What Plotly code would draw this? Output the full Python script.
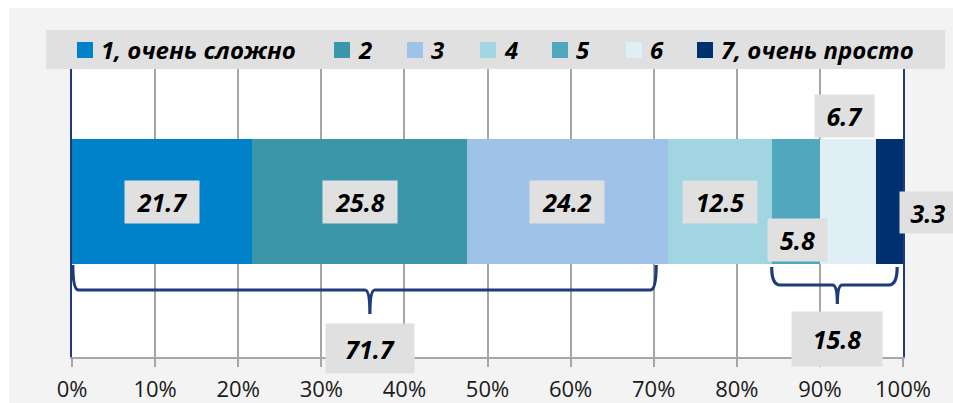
import plotly.graph_objects as go

# Survey answers on a 1..7 difficulty scale (share of respondents, %)
categories = ["1, очень сложно", "2", "3", "4", "5", "6", "7, очень просто"]
values = [21.7, 25.8, 24.2, 12.5, 5.8, 6.7, 3.3]
colors = ["#0082ca", "#3c96aa", "#9fc2e8", "#a2d5e2", "#4fa8be", "#e0eef6", "#00306f"]
tick_values = [0, 10, 20, 30, 40, 50, 60, 70, 80, 90, 100]
tick_labels = ["0%", "10%", "20%", "30%", "40%", "50%", "60%", "70%", "80%", "90%", "100%"]
# answer groups summarised under braces: (first index, last index)
groups = [(0, 2), (4, 6)]

W, H = 953, 403
L, R, T, B = 72, 50, 69, 46
PW, PH = W - L - R, H - T - B

NAVY = "#1f3b7a"
GRID = "#a6a6a6"
BOX = "#e0e0e0"
FONT = "Open Sans"


def xp(px):
    return (px - L) / PW


def yp(py):
    return (H - B - py) / PH


fig = go.Figure()
for name, v, c in zip(categories, values, colors):
    fig.add_trace(go.Bar(
        x=[v], y=[0], orientation="h", width=1, name=name,
        marker=dict(color=c, line=dict(width=0)),
        hoverinfo="skip", showlegend=False,
    ))

starts = [sum(values[:i]) for i in range(len(values))]
mids = [s + v / 2 for s, v in zip(starts, values)]

shapes = []
annotations = []

label_font = dict(family=FONT, size=25, color="#000000", weight="bold", style="italic")


def value_box(text, x, y, w, h, xanchor="center", xshift=0):
    annotations.append(dict(
        x=x, y=y, xref="x", yref="y", text=text, showarrow=False,
        xanchor=xanchor, yanchor="middle", xshift=xshift,
        width=w, height=h, align="center", valign="middle",
        bgcolor=BOX, borderpad=0, font=label_font,
    ))


# per-segment value labels
seg_pos = [
    (0.0, 74, "center", 0),
    (0.0, 74, "center", 0),
    (0.0, 74, "center", 0),
    (0.0, 74, "center", 0),
    (-0.31, 59, "center", 2),
    (0.685, 59, "center", -3),
]
for i, (yy, w, xa, xs) in enumerate(seg_pos):
    value_box(f"{values[i]:.1f}", mids[i], yy, w, 42, xa, xs)
# last segment label sits outside the bar end
value_box(f"{values[-1]:.1f}", starts[-1] + values[-1], -0.085, 56, 41, "left", -4)

# braces under grouped segments with their totals
brace_specs = [
    dict(top=-0.508, mid=-0.708, tip=-0.9, in0=0.1, in1=1.4, r=0.7, lab_y=-1.172, lab_w=90, lab_h=51),
    dict(top=-0.524, mid=-0.668, tip=-0.82, in0=0.0, in1=0.7, r=1.0, lab_y=-1.10, lab_w=92, lab_h=56),
]
for (g0, g1), sp in zip(groups, brace_specs):
    x0 = starts[g0] + sp["in0"]
    x1 = starts[g1] + values[g1] - sp["in1"]
    total = sum(values[g0:g1 + 1])
    xm = starts[g0] + total / 2
    r = sp["r"]
    t, m, tip = sp["top"], sp["mid"], sp["tip"]
    path = (
        f"M{x0},{t} Q{x0},{m} {x0 + r},{m} L{xm - 0.6},{m} "
        f"Q{xm},{m} {xm},{tip} Q{xm},{m} {xm + 0.6},{m} "
        f"L{x1 - r},{m} Q{x1},{m} {x1},{t}"
    )
    shapes.append(dict(type="path", xref="x", yref="y", path=path,
                       line=dict(color=NAVY, width=3.2), layer="above"))
    value_box(f"{total:.1f}", xm, sp["lab_y"], sp["lab_w"] - 2, sp["lab_h"] - 2)

# white margins around the grey chart background
shapes.append(dict(type="rect", xref="paper", yref="paper",
                   x0=xp(0), x1=xp(W), y0=yp(8), y1=yp(0),
                   fillcolor="white", line=dict(width=0), layer="below"))
shapes.append(dict(type="rect", xref="paper", yref="paper",
                   x0=xp(0), x1=xp(9), y0=yp(H), y1=yp(0),
                   fillcolor="white", line=dict(width=0), layer="below"))

# legend strip
shapes.append(dict(type="rect", xref="paper", yref="paper",
                   x0=xp(46), x1=xp(945), y0=yp(69), y1=yp(30),
                   fillcolor=BOX, line=dict(width=0), layer="below"))
legend_marker_x = [77, 334, 407, 480, 552, 626, 697]
legend_font = dict(family=FONT, size=24, color="#000000", weight="bold", style="italic")
for name, c, mx in zip(categories, colors, legend_marker_x):
    shapes.append(dict(type="rect", xref="paper", yref="paper",
                       x0=xp(mx), x1=xp(mx + 16), y0=yp(58), y1=yp(42),
                       fillcolor=c, line=dict(width=0), layer="above"))
    annotations.append(dict(x=xp(mx + 22), y=yp(50), xref="paper", yref="paper",
                            text=name, showarrow=False, xanchor="left", yanchor="middle",
                            font=legend_font))

fig.update_layout(
    width=W, height=H,
    margin=dict(l=L, r=R, t=T, b=B, pad=0),
    paper_bgcolor="#f3f3f3", plot_bgcolor="#ffffff",
    barmode="stack", bargap=0,
    showlegend=False,
    shapes=shapes, annotations=annotations,
    xaxis=dict(
        range=[0, 100], tickvals=tick_values, ticktext=tick_labels,
        showgrid=True, gridcolor=GRID, gridwidth=1.5,
        showline=True, linecolor=GRID, linewidth=1.5,
        ticks="outside", ticklen=8, tickcolor=GRID, tickwidth=1.5,
        ticklabelstandoff=4,
        tickfont=dict(family=FONT, size=22, color="#1a1a1a"),
        zeroline=False, fixedrange=True, automargin=False,
    ),
    yaxis=dict(
        range=[-1.244, 1.06], showticklabels=False, showgrid=False, zeroline=False,
        showline=True, linecolor=NAVY, linewidth=2, mirror=True, fixedrange=True,
    ),
)

fig.write_html("out.html")
